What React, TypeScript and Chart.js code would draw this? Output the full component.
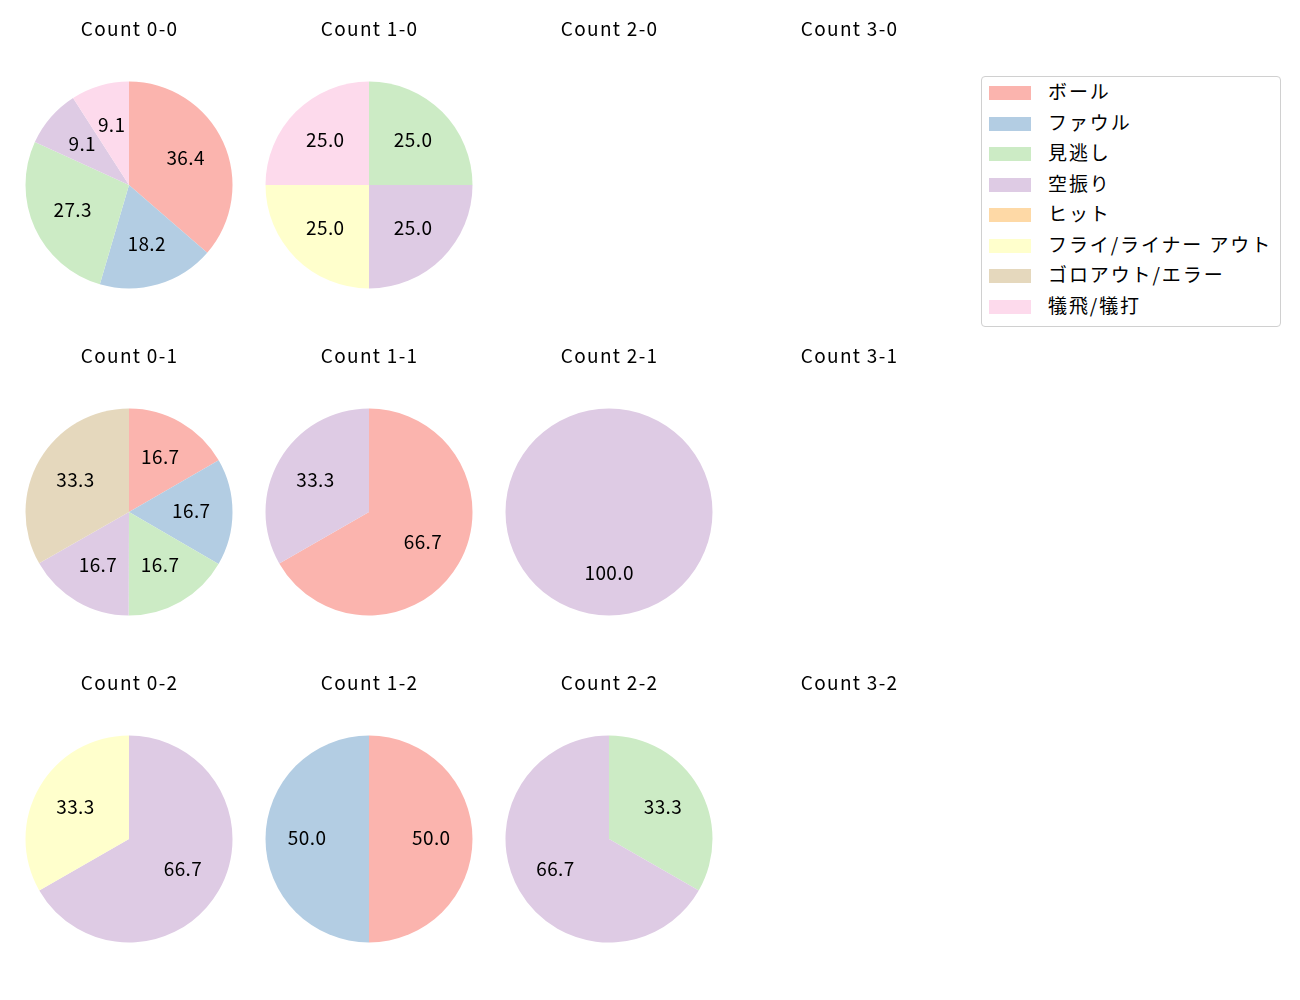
import React, { useEffect, useRef } from "react";
import { Chart, registerables } from "chart.js";

Chart.register(...registerables);

const categories = [
  "ボール",
  "ファウル",
  "見逃し",
  "空振り",
  "ヒット",
  "フライ/ライナー アウト",
  "ゴロアウト/エラー",
  "犠飛/犠打",
];
const colors = ["#fbb4ae", "#b3cde3", "#ccebc5", "#decbe4", "#fed9a6", "#ffffcc", "#e5d8bd", "#fddaec"];

// values per category for each count (percent)
const count00 = [36.4, 18.2, 27.3, 9.1, 0, 0, 0, 9.1];
const count10 = [0, 0, 25.0, 25.0, 0, 25.0, 0, 25.0];
const count20: number[] = [];
const count30: number[] = [];
const count01 = [16.7, 16.7, 16.7, 16.7, 0, 0, 33.3, 0];
const count11 = [66.7, 0, 0, 33.3, 0, 0, 0, 0];
const count21 = [0, 0, 0, 100.0, 0, 0, 0, 0];
const count31: number[] = [];
const count02 = [0, 0, 0, 66.7, 0, 33.3, 0, 0];
const count12 = [50.0, 50.0, 0, 0, 0, 0, 0, 0];
const count22 = [0, 0, 33.3, 66.7, 0, 0, 0, 0];
const count32: number[] = [];

const panels = [
  { title: "Count 0-0", values: count00 },
  { title: "Count 1-0", values: count10 },
  { title: "Count 2-0", values: count20 },
  { title: "Count 3-0", values: count30 },
  { title: "Count 0-1", values: count01 },
  { title: "Count 1-1", values: count11 },
  { title: "Count 2-1", values: count21 },
  { title: "Count 3-1", values: count31 },
  { title: "Count 0-2", values: count02 },
  { title: "Count 1-2", values: count12 },
  { title: "Count 2-2", values: count22 },
  { title: "Count 3-2", values: count32 },
];

const FONT = "'Noto Sans CJK JP', 'Noto Sans', sans-serif";
const W = 240;
const H = 300;
const CY = 175;
const R = 103.5;

const pieLabelPlugin = {
  id: "pieLabels",
  afterDraw(chart: any, _args: any, opts: any) {
    const ctx = chart.ctx;
    ctx.save();
    ctx.fillStyle = "#000";
    ctx.textAlign = "center";
    ctx.textBaseline = "middle";
    ctx.font = `19px ${FONT}`;
    (ctx as any).letterSpacing = "1.3px";
    ctx.fillText(opts.title || "", W / 2 + 0.6, 19);
    const meta = chart.getDatasetMeta(0);
    const data = chart.data.datasets[0]?.data || [];
    ctx.font = `19px ${FONT}`;
    (ctx as any).letterSpacing = "0.4px";
    meta.data.forEach((arc: any, i: number) => {
      const v = data[i] as number;
      if (!v) return;
      const p = arc.getProps(["startAngle", "endAngle", "outerRadius", "x", "y"], true);
      const mid = (p.startAngle + p.endAngle) / 2;
      const r = p.outerRadius * 0.6;
      ctx.fillText(v.toFixed(1), p.x + Math.cos(mid) * r + 0.2, p.y + Math.sin(mid) * r - 1);
    });
    ctx.restore();
  },
};

function Pie({ title, values, left, top }: { title: string; values: number[]; left: number; top: number }) {
  const ref = useRef<HTMLCanvasElement>(null);
  useEffect(() => {
    if (!ref.current) return;
    const chart = new Chart(ref.current, {
      type: "pie",
      data: {
        labels: values.length ? categories : [],
        datasets: [
          {
            data: values,
            backgroundColor: colors,
            borderWidth: 0,
          },
        ],
      },
      options: {
        animation: false,
        responsive: false,
        devicePixelRatio: 1,
        layout: {
          padding: {
            left: W / 2 - R,
            right: W / 2 - R,
            top: CY - R,
            bottom: H - CY - R,
          },
        },
        plugins: {
          legend: { display: false },
          tooltip: { enabled: false },
          pieLabels: { title },
        } as any,
      },
      plugins: [pieLabelPlugin],
    });
    return () => chart.destroy();
  }, [title, values]);
  return (
    <canvas
      ref={ref}
      width={W}
      height={H}
      style={{ position: "absolute", left, top, width: W, height: H }}
    />
  );
}

export default function App() {
  return (
    <div style={{ position: "absolute", left: 0, top: 0, width: 1300, height: 1000, background: "#fff" }}>
      {panels.map((p, i) => {
        const c = i % 4;
        const r = Math.floor(i / 4);
        const cx = 129 + 240 * c;
        const cy = 185 + 327 * r;
        return <Pie key={p.title} title={p.title} values={p.values} left={cx - W / 2} top={cy - CY} />;
      })}
      <div
        style={{
          position: "absolute",
          left: 981,
          top: 76,
          width: 298,
          height: 249,
          border: "1px solid #d0d0d0",
          borderRadius: 4,
          boxSizing: "content-box",
          fontFamily: FONT,
        }}
      >
        {categories.map((c, i) => (
          <div
            key={c}
            style={{ position: "absolute", left: 0, top: 16.3 + i * 30.5 - 15, height: 30, width: 298 }}
          >
            <div
              style={{
                position: "absolute",
                left: 7,
                top: 8,
                width: 42,
                height: 14,
                background: colors[i],
              }}
            />
            <div
              style={{
                position: "absolute",
                left: 66,
                top: -2,
                height: 30,
                lineHeight: "30px",
                fontSize: 19,
                letterSpacing: "1.9px",
                color: "#000",
                whiteSpace: "nowrap",
              }}
            >
              {c}
            </div>
          </div>
        ))}
      </div>
    </div>
  );
}
